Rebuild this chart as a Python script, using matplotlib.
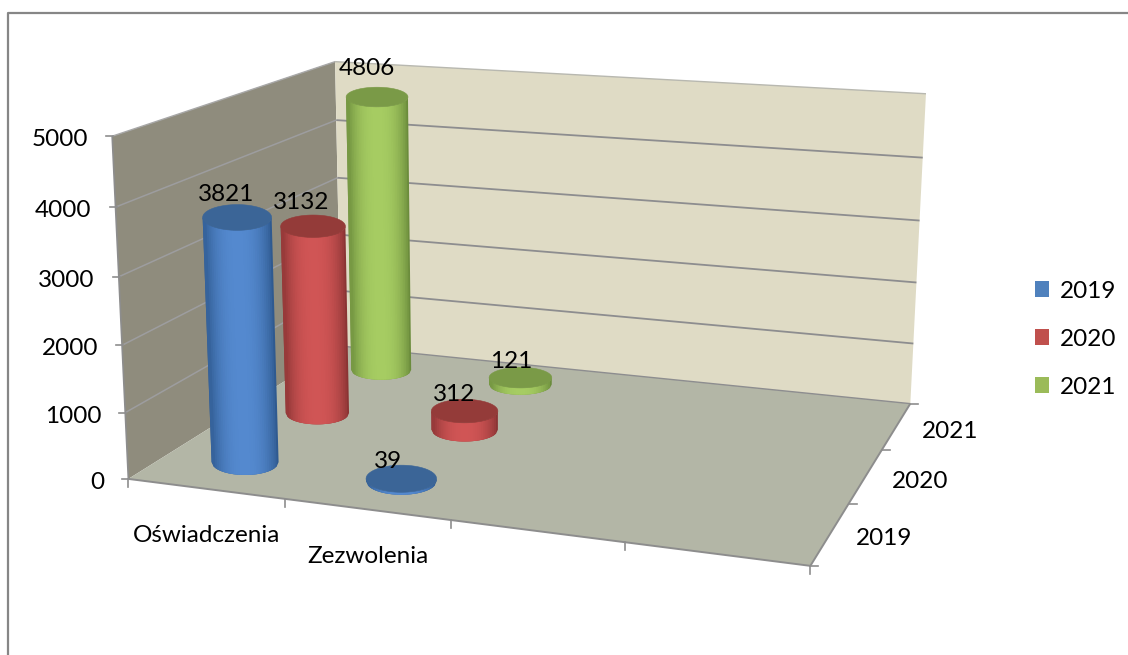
import matplotlib
matplotlib.use("Agg")
import matplotlib.pyplot as plt
import numpy as np
from matplotlib.patches import Polygon, Rectangle

plt.rcParams['font.family'] = ['Lato', 'DejaVu Sans']

categories = ['Oświadczenia', 'Zezwolenia']
years = ['2019', '2020', '2021']
values_2019 = [3821, 39]
values_2020 = [3132, 312]
values_2021 = [4806, 121]
value_ticks = [0, 1000, 2000, 3000, 4000, 5000]

series = [values_2019, values_2020, values_2021]
legend_colors = ['#4f81bd', '#c0504d', '#9bbb59']
light_colors = ['#5489cf', '#d05555', '#a6cc62']
dark_colors = ['#2f5a90', '#8a3434', '#6b8c3c']
cap_colors = ['#3b6597', '#943b39', '#7a9a47']

# Where each value label sits relative to the centre of the cylinder top
label_offsets = [[(-11, -23), (-13, -17)], [(-12, -24), (-10, -17)], [(-10, -29), (-9, -16)]]
# Depth of each series inside the box, the rows are not quite evenly spaced
series_depth = [0.5, 1.52, 2.55]

N_CATS = 4  # the chart keeps room for four categories
Z_MAX = value_ticks[-1]
CYL_SCALE = 0.965  # cylinders come out a little shorter than the wall scale
FONT = 17.5

# Calibration of the 3D box: (category, series, value) -> picture pixel
box_3d = [(0, 0, 0), (4, 0, 0), (4, 3, 0), (0, 3, 0),
          (0, 0, Z_MAX), (0, 3, Z_MAX), (4, 3, Z_MAX),
          (1, 0, 0), (2, 0, 0), (3, 0, 0), (4, 1, 0), (4, 2, 0),
          (0, 0, 1000), (0, 0, 2000), (0, 0, 3000), (0, 0, 4000)]
box_px = [(130, 478), (810, 566), (910, 403), (338, 348),
          (110, 137), (338, 60), (925, 95),
          (285, 499), (449, 520), (625, 544), (850, 503), (883, 449),
          (127, 412), (123, 345), (119, 277), (114, 207)]


def fit_projection(points_3d, points_px):
    """Least squares fit of a 3x4 projection matrix."""
    rows = []
    rhs = []
    for (x, y, z), (u, v) in zip(points_3d, points_px):
        z = z / Z_MAX
        rows.append([x, y, z, 1, 0, 0, 0, 0, -u * x, -u * y, -u * z])
        rows.append([0, 0, 0, 0, x, y, z, 1, -v * x, -v * y, -v * z])
        rhs += [u, v]
    m = np.linalg.lstsq(np.array(rows, float), np.array(rhs, float), rcond=None)[0]
    return np.append(m, 1).reshape(3, 4)


P = fit_projection(box_3d, box_px)


def project(x, y, z):
    """Project chart coordinates to pixels."""
    x, y, z = np.broadcast_arrays(x, y, np.asarray(z, float) / Z_MAX)
    h = np.stack([x, y, z, np.ones_like(x, dtype=float)])
    q = P @ h.reshape(4, -1)
    return np.column_stack([q[0] / q[2], q[1] / q[2]])


def face(ax, corners, color, zorder=1):
    pts = project(*np.array(corners, float).T)
    ax.add_patch(Polygon(pts, closed=True, facecolor=color, edgecolor='none', zorder=zorder))


def line3d(ax, a, b, color, lw=1.2, zorder=2):
    pts = project(*np.array([a, b], float).T)
    ax.plot(pts[:, 0], pts[:, 1], color=color, lw=lw, zorder=zorder, solid_capstyle='butt')


def mix(c1, c2, t):
    a = np.array(matplotlib.colors.to_rgb(c1))
    b = np.array(matplotlib.colors.to_rgb(c2))
    return tuple(a + (b - a) * t)


def ellipse_at(x, y, z, angles):
    """Screen-aligned ellipse around a projected centre, scaled by the local perspective."""
    rx, ry = 0.22, 0.25
    centre = project(x, y, z)[0]
    half_w = (project(x + rx, y, z)[0][0] - project(x - rx, y, z)[0][0]) / 2
    half_h = abs(project(x, y + ry, 0)[0][1] - project(x, y - ry, 0)[0][1]) / 2
    return np.column_stack([centre[0] + half_w * np.cos(angles), centre[1] + half_h * np.sin(angles)])


def cylinder(ax, x, y, value, i, zorder):
    """Draw one cylinder from shaded side strips and a top cap."""
    # Strips of equal width on screen, thin strips at the rim give a wavy outline
    u = np.linspace(1, -1, 37)
    angles = np.arccos(u)
    bottom = ellipse_at(x, y, 0, angles)
    top = ellipse_at(x, y, value * CYL_SCALE, angles)
    outline = np.vstack([bottom, top[::-1]])
    ax.add_patch(Polygon(outline, closed=True, facecolor=dark_colors[i], edgecolor='none',
                         zorder=zorder, snap=False))
    for k in range(1, len(angles) - 2):
        # Each strip overlaps the next one, so no seams show between them
        pts = [bottom[k], bottom[k + 2], top[k + 2], top[k]]
        shade = abs((u[k] + u[k + 1]) / 2) ** 2.5
        col = mix(light_colors[i], dark_colors[i], shade)
        ax.add_patch(Polygon(pts, closed=True, facecolor=col, edgecolor='none',
                             zorder=zorder, snap=False))
    cap = ellipse_at(x, y, value * CYL_SCALE, np.linspace(0, 2 * np.pi, 80))
    ax.add_patch(Polygon(cap, closed=True, facecolor=cap_colors[i], edgecolor=cap_colors[i],
                         lw=0.4, zorder=zorder + 0.5, snap=False))


fig = plt.figure(figsize=(11.28, 6.55), dpi=100)
ax = fig.add_axes([0, 0, 1, 1])
ax.set_xlim(0, 1128)
ax.set_ylim(655, 0)
ax.axis('off')

# Chart frame, only top and left fall inside the crop
ax.plot([8, 8, 1128], [655, 13, 13], color='#868686', lw=1.6, zorder=0)

# Walls and floor
face(ax, [(0, 0, 0), (0, 3, 0), (0, 3, Z_MAX), (0, 0, Z_MAX)], '#8f8c7d')
face(ax, [(0, 3, 0), (4, 3, 0), (4, 3, Z_MAX), (0, 3, Z_MAX)], '#dfdbc5')
face(ax, [(0, 0, 0), (4, 0, 0), (4, 3, 0), (0, 3, 0)], '#b3b6a6')

# Gridlines
for v in value_ticks[1:-1]:
    line3d(ax, (0, 0, v), (0, 3, v), '#9d9d9f', lw=1.1)
    line3d(ax, (0, 3, v), (4, 3, v), '#8d8d8f', lw=1.3)
line3d(ax, (0, 3, 0), (4, 3, 0), '#8d8d8f', lw=1.0)
line3d(ax, (0, 3, Z_MAX), (4, 3, Z_MAX), '#b8b8b0', lw=1.0)
line3d(ax, (0, 0, Z_MAX), (0, 3, Z_MAX), '#a8a8a8', lw=1.0)

# Axis lines and ticks
line3d(ax, (0, 0, 0), (0, 0, Z_MAX), '#8d8d8d', lw=1.2)
line3d(ax, (0, 0, 0), (4, 0, 0), '#8d8d8d', lw=1.4)
line3d(ax, (4, 0, 0), (4, 3, 0), '#8d8d8d', lw=1.4)
for v in value_ticks:
    u, w = project(0, 0, v)[0]
    ax.plot([u - 6, u + 1], [w, w], color='#8d8d8d', lw=1.2, zorder=2)
    ax.text(u - 24, w + 3.5, str(v), ha='right', va='center', fontsize=FONT, color='black', zorder=5)
for c in range(N_CATS + 1):
    u, w = project(c, 0, 0)[0]
    ax.plot([u, u], [w, w + 8], color='#8d8d8d', lw=1.2, zorder=2)
for s in range(len(years) + 1):
    u, w = project(N_CATS, s, 0)[0]
    ax.plot([u, u + 8], [w, w], color='#8d8d8d', lw=1.2, zorder=2)

# Axis labels
for c, label in enumerate(categories):
    u, w = project(c + 0.5, 0, 0)[0]
    ax.text(u + 1, w + 47, label, ha='center', va='center', fontsize=FONT, color='black', zorder=5)
for s, label in enumerate(years):
    u, w = project(N_CATS, s + 0.5, 0)[0]
    ax.text(u + 54, w + 5, label, ha='center', va='center', fontsize=FONT, color='black', zorder=5)

# Cylinders from the back of the box to the front, each with its value label
zorder = 3
for i in reversed(range(len(series))):
    for c, value in enumerate(series[i]):
        depth = series_depth[i]
        cylinder(ax, c + 0.5, depth, value, i, zorder)
        zorder += 1
        u, w = project(c + 0.5, depth, value * CYL_SCALE)[0]
        dx, dy = label_offsets[i][c]
        ax.text(u + dx, w + dy, str(value), ha='center', va='center',
                fontsize=FONT, color='black', zorder=50)

# Legend
for i, label in enumerate(years):
    y = 289 + 48 * i
    ax.add_patch(Rectangle((1035, y - 8), 14, 16, facecolor=legend_colors[i], edgecolor='none'))
    ax.text(1060, y + 3, label, ha='left', va='center', fontsize=FONT, color='black')

fig.savefig('out.png', dpi=100)
